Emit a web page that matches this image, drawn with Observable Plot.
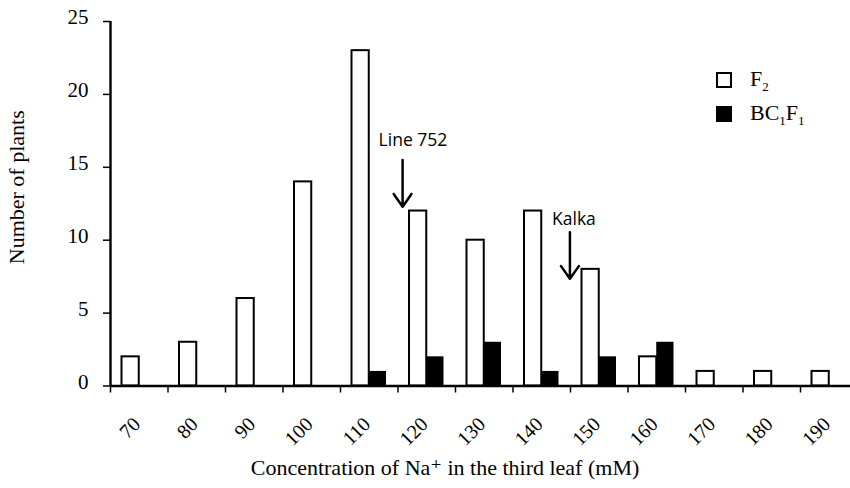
<!DOCTYPE html>
<html>
<head>
<meta charset="utf-8">
<script src="https://cdn.jsdelivr.net/npm/d3@7"></script>
<script src="https://cdn.jsdelivr.net/npm/@observablehq/plot@0.6"></script>
<style>
  html, body { margin: 0; padding: 0; background: #fff; }
  #wrap { position: relative; width: 850px; height: 488px; overflow: hidden; }
  #wrap svg { display: block; }
  .sw { position: absolute; left: 716px; width: 12px; height: 12px; border: 2px solid #000; }
  .lab { position: absolute; left: 750px; font-family: "Liberation Serif", serif; font-size: 22px; line-height: 22px; color: #000; white-space: nowrap; }
  .lab sub { font-size: 13px; vertical-align: -5px; line-height: 0; }
</style>
</head>
<body>
<div id="wrap"></div>
<script>
// Na+ concentration classes (mM)
const concentrations = [70, 80, 90, 100, 110, 120, 130, 140, 150, 160, 170, 180, 190];
// Number of plants per class
const f2Counts    = [2, 3, 6, 14, 23, 12, 10, 12, 8, 2, 1, 1, 1];
const bc1f1Counts = [0, 0, 0, 0, 1, 2, 3, 1, 2, 3, 0, 0, 0];
// Tick positions (class boundaries) and y ticks
const boundaryTicks = [65, 75, 85, 95, 105, 115, 125, 135, 145, 155, 165, 175, 185];
const yTicks = [0, 5, 10, 15, 20, 25];
// Annotations (data coordinates)
const annLabels = ["Line 752", "Kalka"];
const annX      = [115.8, 144.9];
const annTop    = [15.5, 10.55];
const annTip    = [12.3, 7.35];
const annTextX  = [117.6, 145.6];
const annTextY  = [16.82, 11.43];
// Legend
const legendLabels = ["F<sub>2</sub>", "BC<sub>1</sub>F<sub>1</sub>"];
const legendFills = ["#fff", "#000"];

const f2 = concentrations.map((c, i) => ({c, n: f2Counts[i]}));
const bc = concentrations.map((c, i) => ({c, n: bc1f1Counts[i]})).filter(d => d.n > 0);
const ann = annLabels.map((label, i) => ({label, x: annX[i], top: annTop[i], tip: annTip[i], tx: annTextX[i], ty: annTextY[i]}));

const serif = "'Liberation Serif', 'DejaVu Serif', serif";
const sans = "'Open Sans', 'Noto Sans', sans-serif";

const chart = Plot.plot({
  width: 850,
  height: 488,
  marginLeft: 110,
  marginRight: 0,
  marginTop: 21,
  marginBottom: 102.5,
  style: {fontFamily: serif, background: "white", color: "black"},
  x: {domain: [65, 195], range: [110, 857.5], axis: null},
  y: {domain: [0, 25], axis: null},
  marks: [
    Plot.rectY(f2, {x1: d => d.c - 3, x2: d => d.c, y: "n", fill: "white", stroke: "black", strokeWidth: 2}),
    Plot.rectY(bc, {x1: d => d.c, x2: d => d.c + 3, y: "n", fill: "black"}),
    Plot.ruleY([0], {stroke: "black", strokeWidth: 2.4}),
    Plot.ruleX([65], {stroke: "black", strokeWidth: 2.4}),
    Plot.axisY(yTicks, {tickSize: 7, tickFormat: () => "", label: null, strokeWidth: 1.5}),
    Plot.axisY(yTicks, {tickSize: 0, tickPadding: 22, dy: -4, label: null, fontSize: 21, fontFamily: serif}),
    Plot.axisX(boundaryTicks, {tickSize: 7, tickFormat: () => "", label: null, strokeWidth: 1.5}),
    Plot.text(concentrations, {x: d => d, y: 0, text: d => String(d), rotate: -45, textAnchor: "end", lineAnchor: "bottom", dx: 2.3, dy: 39.5, fontSize: 20, fontFamily: serif}),
    Plot.text(["Number of plants"], {frameAnchor: "left", rotate: -90, textAnchor: "middle", lineAnchor: "bottom", dx: -87, dy: -16.5, fontSize: 22, fontFamily: serif}),
    Plot.text(["Concentration of Na\u207A in the third leaf (mM)"], {frameAnchor: "bottom", textAnchor: "middle", lineAnchor: "bottom", dx: -35.5, dy: 88.5, fontSize: 22, fontFamily: serif}),
    Plot.arrow(ann, {x: "x", y1: "top", y2: "tip", stroke: "black", strokeWidth: 2.5, headLength: 12, headAngle: 70}),
    Plot.text(ann, {x: "tx", y: "ty", text: "label", fontSize: 17.5, fontFamily: sans})
  ]
});

const wrap = document.getElementById("wrap");
wrap.appendChild(chart);

const swTops = [71.5, 105.5];
const labTops = [68.3, 102];
legendLabels.forEach((html, i) => {
  const sw = document.createElement("div");
  sw.className = "sw";
  sw.style.top = swTops[i] + "px";
  sw.style.background = legendFills[i];
  wrap.appendChild(sw);
  const lab = document.createElement("div");
  lab.className = "lab";
  lab.style.top = labTops[i] + "px";
  lab.innerHTML = html;
  wrap.appendChild(lab);
});
</script>
</body>
</html>
